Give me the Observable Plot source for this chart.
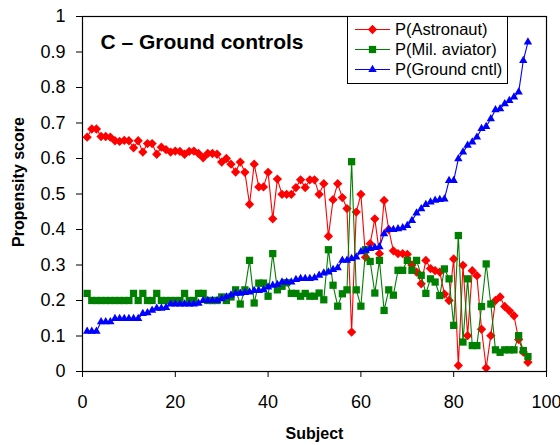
<!DOCTYPE html>
<html><head><meta charset="utf-8">
<script src="https://cdn.jsdelivr.net/npm/d3@7"></script>
<script src="https://cdn.jsdelivr.net/npm/@observablehq/plot@0.6"></script>
<style>body{margin:0;background:#fff} #chart{width:560px;height:445px;position:relative}</style>
</head><body><div id="chart"></div>
<script>
// Values per subject (subject number = position in array + 1)
const astronaut = [0.66,0.683,0.683,0.662,0.662,0.66,0.65,0.648,0.651,0.65,
  0.63,0.65,0.618,0.642,0.642,0.612,0.632,0.625,0.618,0.621,
  0.62,0.612,0.62,0.621,0.614,0.602,0.614,0.614,0.612,0.59,
  0.6,0.584,0.562,0.59,0.561,0.471,0.584,0.52,0.52,0.561,
  0.43,0.542,0.499,0.499,0.499,0.518,0.54,0.518,0.54,0.54,
  0.499,0.529,0.381,0.484,0.529,0.49,0.459,0.111,0.449,0.499,
  0.322,0.36,0.43,0.332,0.482,0.40,0.34,0.332,0.332,0.33,
  0.30,0.28,0.247,0.313,0.29,0.284,0.28,0.218,0.2,0.317,
  0.017,0.299,0.101,0.284,0.27,0.119,0.01,0.101,0.2,0.21,
  0.183,0.171,0.157,0.09,0.055,0.026];
const milAviator = [0.22,0.2,0.2,0.2,0.2,0.2,0.2,0.2,0.2,0.2,
  0.22,0.2,0.22,0.2,0.2,0.22,0.2,0.2,0.2,0.2,
  0.2,0.22,0.2,0.2,0.22,0.22,0.2,0.2,0.2,0.21,
  0.2,0.21,0.23,0.19,0.23,0.313,0.193,0.249,0.249,0.212,
  0.332,0.23,0.24,0.25,0.22,0.22,0.212,0.22,0.212,0.212,
  0.221,0.202,0.343,0.243,0.184,0.219,0.23,0.591,0.23,0.184,
  0.343,0.31,0.221,0.313,0.172,0.23,0.215,0.285,0.285,0.313,
  0.285,0.313,0.271,0.22,0.261,0.252,0.214,0.289,0.261,0.13,
  0.383,0.083,0.261,0.073,0.073,0.183,0.303,0.19,0.061,0.054,
  0.061,0.061,0.061,0.101,0.059,0.042];
const groundCntl = [0.113,0.113,0.113,0.14,0.14,0.14,0.149,0.149,0.149,0.149,
  0.149,0.149,0.163,0.165,0.172,0.178,0.178,0.18,0.19,0.19,
  0.19,0.19,0.19,0.19,0.192,0.2,0.2,0.2,0.2,0.205,
  0.21,0.215,0.22,0.22,0.222,0.224,0.228,0.228,0.23,0.238,
  0.243,0.245,0.252,0.252,0.252,0.259,0.262,0.262,0.262,0.264,
  0.271,0.277,0.28,0.287,0.292,0.313,0.313,0.318,0.322,0.337,
  0.341,0.346,0.349,0.351,0.388,0.4,0.4,0.402,0.405,0.411,
  0.425,0.446,0.458,0.47,0.477,0.482,0.484,0.486,0.538,0.538,
  0.599,0.618,0.637,0.646,0.66,0.684,0.69,0.712,0.737,0.74,
  0.754,0.763,0.773,0.787,0.876,0.928];

const seriesNames = ["P(Astronaut)", "P(Mil. aviator)", "P(Ground cntl)"];
const seriesColors = ["#FF0000", "#008000", "#0000FF"];
const seriesSymbols = ["diamond2", "square", "triangle"];
const seriesRadius = [4.2, 4.1, 3.1];
const xTicks = [0, 20, 40, 60, 80, 100];
const yTicks = [0, 0.1, 0.2, 0.3, 0.4, 0.5, 0.6, 0.7, 0.8, 0.9, 1];

const allSeries = [astronaut, milAviator, groundCntl];
const tables = allSeries.map(vals => vals.map((v, i) => ({subject: i + 1, value: v})));

const seriesMarks = [];
tables.forEach((t, k) => {
  seriesMarks.push(Plot.line(t, {x: "subject", y: "value", stroke: seriesColors[k], strokeWidth: 1.1}));
  seriesMarks.push(Plot.dot(t, {x: "subject", y: "value", symbol: seriesSymbols[k], r: seriesRadius[k], fill: seriesColors[k], stroke: "none"}));
});

const plot = Plot.plot({
  width: 560, height: 445,
  marginLeft: 82, marginRight: 14, marginTop: 16, marginBottom: 74,
  style: {fontFamily: "'Liberation Sans', Arial, sans-serif", fontSize: "18px", color: "#000", background: "#fff", overflow: "visible"},
  x: {domain: [0, 100]},
  y: {domain: [0, 1]},
  marks: [
    Plot.axisX({ticks: xTicks, tickSize: 6, tickPadding: 18, tickFormat: d => String(d), label: null}),
    Plot.axisY({ticks: yTicks, tickSize: 6, tickPadding: 11, tickFormat: d => String(d), label: null}),
    ...seriesMarks,
    Plot.frame({stroke: "#000", strokeWidth: 1.2}),
    Plot.text(["C – Ground controls"], {frameAnchor: "top-left", dx: 18, dy: 26, textAnchor: "start", lineAnchor: "middle", fontWeight: "bold", fontSize: 21}),
    Plot.text(["Propensity score"], {frameAnchor: "left", dx: -64, dy: -12, rotate: -90, textAnchor: "middle", lineAnchor: "middle", fontWeight: "bold", fontSize: 16}),
    Plot.text(["Subject"], {frameAnchor: "bottom", dy: 62, textAnchor: "middle", lineAnchor: "middle", fontWeight: "bold", fontSize: 16})
  ]
});

// Legend box (top right, inside plot area)
const svg = d3.select(plot);
const lg = svg.append("g").attr("font-family", "'Liberation Sans', Arial, sans-serif").attr("text-anchor", "start");
lg.append("rect").attr("x", 347.5).attr("y", 16.5).attr("width", 160).attr("height", 67)
  .attr("fill", "#fff").attr("stroke", "#000").attr("stroke-width", 1);
const d3Symbols = {diamond2: d3.symbolDiamond2, square: d3.symbolSquare, triangle: d3.symbolTriangle};
seriesNames.forEach((name, k) => {
  const cy = 29.5 + 20 * k;
  lg.append("line").attr("x1", 355).attr("x2", 390).attr("y1", cy).attr("y2", cy)
    .attr("stroke", seriesColors[k]).attr("stroke-width", 1.1);
  lg.append("path").attr("transform", `translate(372.5,${cy})`)
    .attr("d", d3.symbol(d3Symbols[seriesSymbols[k]], Math.PI * seriesRadius[k] ** 2)())
    .attr("fill", seriesColors[k]);
  lg.append("text").attr("x", 395).attr("y", cy).attr("dy", "0.35em")
    .attr("text-anchor", "start").attr("font-size", 16.5).attr("fill", "#000").text(name);
});

document.getElementById("chart").appendChild(plot);
</script>
</body></html>
